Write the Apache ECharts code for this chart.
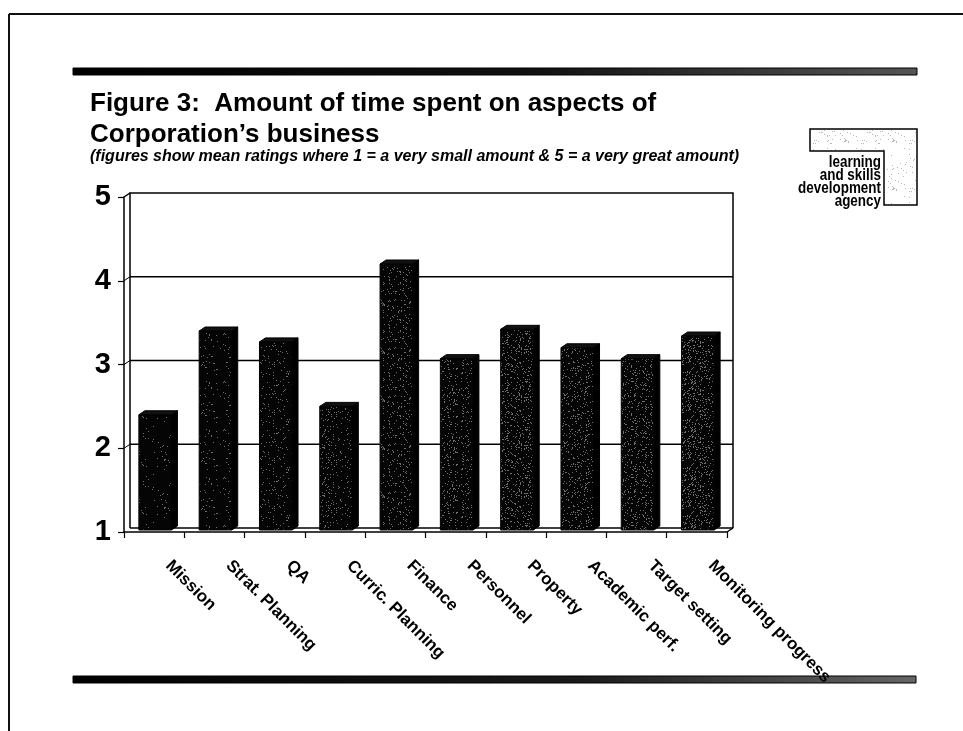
<!DOCTYPE html>
<html>
<head>
<meta charset="utf-8">
<script src="https://cdn.jsdelivr.net/npm/echarts@6/dist/echarts.min.js"></script>
<style>
  html, body { margin: 0; padding: 0; background: #fff; }
  #chart { width: 963px; height: 731px; }
</style>
</head>
<body>
<div id="chart"></div>
<script>
// Mean ratings per aspect of the Corporation's business (1 = very small, 5 = very great)
const categories = ['Mission', 'Strat. Planning', 'QA', 'Curric. Planning', 'Finance',
  'Personnel', 'Property', 'Academic perf.', 'Target setting', 'Monitoring progress'];
const meanRatings = [2.4, 3.4, 3.27, 2.5, 4.2, 3.07, 3.42, 3.2, 3.07, 3.34];
const yTicks = [1, 2, 3, 4, 5];
const titleLines = ['Figure 3:  Amount of time spent on aspects of', 'Corporation\u2019s business'];
const subtitle = '(figures show mean ratings where 1 = a very small amount & 5 = a very great amount)';
const logoLines = ['learning', 'and skills', 'development', 'agency'];

// deterministic speckle texture for the printed-look bar faces
function speckle(base, dot, density, seed) {
  const c = document.createElement('canvas');
  c.width = 48; c.height = 48;
  const g = c.getContext('2d');
  g.fillStyle = base; g.fillRect(0, 0, 48, 48);
  g.fillStyle = dot;
  let s = seed >>> 0;
  const next = () => { s = (Math.imul(s, 1664525) + 1013904223) >>> 0; return s / 4294967296; };
  for (let y = 0; y < 48; y++) {
    for (let x = 0; x < 48; x++) {
      if (next() < density) g.fillRect(x, y, 1, 1);
    }
  }
  return c;
}
const barTextures = categories.map((_, i) =>
  speckle('#050505', '#6e6e6e', 0.025 + i * 0.012, 1234 + i * 77));
const logoTexture = speckle('#ffffff', '#b8b8b8', 0.035, 999);

const DX = 6, DY = -4; // depth offset of the 3D look

const chart = echarts.init(document.getElementById('chart'), null, { renderer: 'canvas' });

const font = 'Liberation Sans, Arial, sans-serif';
const logoFont = 'bold 16px "Liberation Sans", Arial, sans-serif';

// logo text lines, right aligned against the inner edge of the logo box
const logoText = logoLines.map((t, i) => ({
  type: 'text', x: 881, y: 163 + i * 13, scaleX: 0.84,
  style: { text: t, fill: '#000', align: 'right', verticalAlign: 'middle', font: logoFont }
}));

chart.setOption({
  backgroundColor: '#fff',
  animation: false,
  grid: { left: 124, right: 236, top: 197, bottom: 199 },
  xAxis: {
    type: 'category',
    data: categories,
    boundaryGap: true,
    axisLine: { lineStyle: { color: '#000', width: 1.5 } },
    axisTick: { show: true, length: 6, alignWithLabel: false, lineStyle: { color: '#000', width: 1.2 } },
    axisLabel: {
      interval: 0, rotate: -45, margin: 17, color: '#000',
      fontFamily: font, fontWeight: 'bold', fontSize: 17,
      padding: [0, 0, 0, 20]
    },
    splitLine: { show: false }
  },
  yAxis: {
    type: 'value', min: 1, max: 5, interval: 1,
    axisLine: { show: true, lineStyle: { color: '#000', width: 1.5 } },
    axisTick: { show: true, length: 6, lineStyle: { color: '#000', width: 1.2 } },
    axisLabel: {
      color: '#000', fontFamily: font, fontWeight: 'bold', fontSize: 29, margin: 13,
      formatter: v => yTicks.includes(v) ? String(v) : ''
    },
    splitLine: { show: false }
  },
  series: [
    {
      // back wall, side wall and floor edges with gridlines
      type: 'custom',
      silent: true,
      z: 1,
      data: [0],
      renderItem: function (params, api) {
        const cs = params.coordSys;
        const l = cs.x, r = cs.x + cs.width, t = cs.y, b = cs.y + cs.height;
        const line = { stroke: '#000', lineWidth: 1.5, fill: 'none' };
        const kids = [
          { type: 'polyline', shape: { points: [[l + DX, b + DY], [l + DX, t + DY], [r + DX, t + DY], [r + DX, b + DY]] }, style: line },
          { type: 'line', shape: { x1: l, y1: t, x2: l + DX, y2: t + DY }, style: line },
          { type: 'line', shape: { x1: l + DX, y1: b + DY, x2: r + DX, y2: b + DY }, style: line },
          { type: 'line', shape: { x1: r, y1: b, x2: r + DX, y2: b + DY }, style: line }
        ];
        yTicks.forEach(v => {
          if (v === 1 || v === 5) return;
          const y = api.coord([0, v])[1];
          kids.push({ type: 'line', shape: { x1: l, y1: y, x2: l + DX, y2: y + DY }, style: { stroke: '#000', lineWidth: 1, fill: 'none' } });
          kids.push({ type: 'line', shape: { x1: l + DX, y1: y + DY, x2: r + DX, y2: y + DY }, style: { stroke: '#000', lineWidth: 1.3, fill: 'none' } });
        });
        return { type: 'group', children: kids };
      }
    },
    {
      type: 'custom',
      name: 'Mean rating',
      z: 3,
      data: meanRatings.map((v, i) => [i, v]),
      encode: { x: 0, y: 1 },
      renderItem: function (params, api) {
        const i = api.value(0);
        const top = api.coord([i, api.value(1)]);
        const base = api.coord([i, 1]);
        const band = api.size([1, 0])[0];
        const w = band * 0.54;
        const x0 = top[0] - w / 2 + 1, x1 = x0 + w;
        const yt = top[1], yb = base[1] - 2;
        return {
          type: 'group',
          children: [
            { type: 'rect', shape: { x: x0, y: yt, width: w, height: yb - yt },
              style: { fill: { image: barTextures[i], repeat: 'repeat' }, stroke: '#000', lineWidth: 1 } },
            { type: 'polygon', shape: { points: [[x1, yt], [x1 + DX, yt + DY], [x1 + DX, yb + DY], [x1, yb]] },
              style: { fill: '#000', stroke: '#000', lineWidth: 1 } },
            { type: 'polygon', shape: { points: [[x0, yt], [x0 + DX, yt + DY], [x1 + DX, yt + DY], [x1, yt]] },
              style: { fill: '#111', stroke: '#000', lineWidth: 1 } }
          ]
        };
      }
    }
  ],
  graphic: [
    // page frame
    { type: 'line', shape: { x1: 9, y1: 14, x2: 963, y2: 14 }, style: { stroke: '#111', lineWidth: 2 } },
    { type: 'line', shape: { x1: 9, y1: 14, x2: 9, y2: 731 }, style: { stroke: '#111', lineWidth: 2 } },
    // top and bottom rules
    { type: 'rect', shape: { x: 73, y: 68, width: 844, height: 7 },
      style: { fill: new echarts.graphic.LinearGradient(0, 0, 1, 0, [
        { offset: 0, color: '#000' }, { offset: 0.55, color: '#111' }, { offset: 1, color: '#555' }]),
        stroke: '#000', lineWidth: 1 } },
    { type: 'rect', shape: { x: 73, y: 676, width: 843, height: 7 },
      style: { fill: new echarts.graphic.LinearGradient(0, 0, 1, 0, [
        { offset: 0, color: '#000' }, { offset: 0.6, color: '#1a1a1a' }, { offset: 1, color: '#666' }]),
        stroke: '#000', lineWidth: 1 } },
    // titles
    { type: 'text', left: 90, top: 91, style: { text: titleLines[0], fill: '#000', font: 'bold 26px ' + font } },
    { type: 'text', left: 90, top: 122, style: { text: titleLines[1], fill: '#000', font: 'bold 26px ' + font } },
    { type: 'text', left: 90, top: 149, style: { text: subtitle, fill: '#000', font: 'italic bold 16px ' + font } },
    // agency logo
    { type: 'polygon', shape: { points: [[810, 129], [917, 129], [917, 205], [884, 205], [884, 151], [810, 151]] },
      style: { fill: { image: logoTexture, repeat: 'repeat' }, stroke: '#000', lineWidth: 1.5 } }
  ].concat(logoText)
});
</script>
</body>
</html>
